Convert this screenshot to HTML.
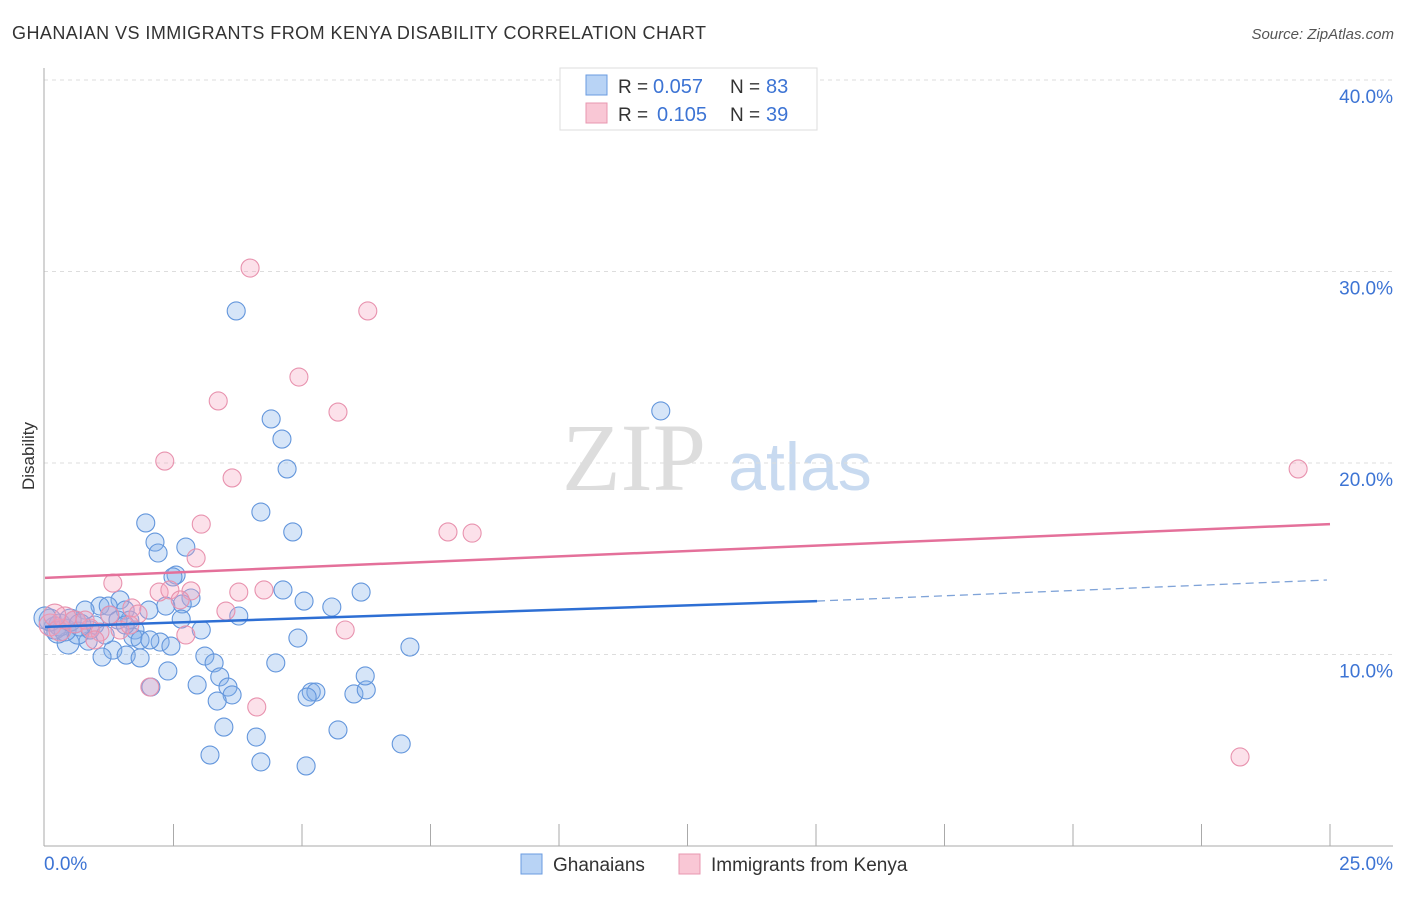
<!DOCTYPE html>
<html><head><meta charset="utf-8"><style>
body{margin:0;background:#fff;font-family:"Liberation Sans",sans-serif;}
svg text{font-family:"Liberation Sans",sans-serif;}
</style></head><body>
<svg id="chart" width="1406" height="892" xmlns="http://www.w3.org/2000/svg">
<text x="12" y="39" font-size="18" fill="#333" textLength="694">GHANAIAN VS IMMIGRANTS FROM KENYA DISABILITY CORRELATION CHART</text>
<text x="1394" y="39" font-size="15" fill="#555" font-style="italic" text-anchor="end">Source: ZipAtlas.com</text>
<text x="0" y="0" transform="translate(34,456) rotate(-90)" font-size="17" fill="#333" text-anchor="middle">Disability</text>
<g>
<text x="634" y="490" font-size="96" fill="#ddd" text-anchor="middle" style="font-family:'Liberation Serif',serif">ZIP</text>
<text x="800" y="490" font-size="68" fill="#c8daf0" text-anchor="middle">atlas</text>
</g>
<g id="grid"></g>
<g id="axes"></g>
<g id="marks"></g>
<g>
<rect x="560" y="68" width="257" height="62" fill="#fff" stroke="#ddd"/>
<rect x="586" y="75" width="21" height="20" fill="#b8d3f5" stroke="#6a9be0"/>
<rect x="586" y="103" width="21" height="20" fill="#f9c7d5" stroke="#e897b0"/>
<text x="618" y="93" font-size="19" fill="#333">R =</text>
<text x="653" y="93" font-size="20" fill="#3d74d4">0.057</text>
<text x="730" y="93" font-size="19" fill="#333">N =</text>
<text x="766" y="93" font-size="20" fill="#3d74d4">83</text>
<text x="618" y="121" font-size="19" fill="#333">R =</text>
<text x="657" y="121" font-size="20" fill="#3d74d4">0.105</text>
<text x="730" y="121" font-size="19" fill="#333">N =</text>
<text x="766" y="121" font-size="20" fill="#3d74d4">39</text>
</g>
<g>
<rect x="521" y="854" width="21" height="20" fill="#b8d3f5" stroke="#6a9be0"/>
<text x="553" y="871" font-size="19" fill="#333">Ghanaians</text>
<rect x="679" y="854" width="21" height="20" fill="#f9c7d5" stroke="#e897b0"/>
<text x="711" y="871" font-size="19" fill="#333">Immigrants from Kenya</text>
</g>
</svg>
<script>
const yTicks=[10,20,30,40];
const yTickLabels=["10.0%","20.0%","30.0%","40.0%"];
const xTicks=[2.5,5,7.5,10,12.5,15,17.5,20,22.5,25];
const blueX=[3.72,11.98,4.40,4.61,4.71,4.20,4.82,1.96,2.14,2.20,2.74,2.55,2.49,4.63,6.15,2.84,2.67,2.35,5.04,5.58,3.77,2.65,2.02,1.46,1.07,0.78,1.23,1.56,1.65,3.04,1.75,4.92,7.10,1.71,2.24,2.45,1.32,1.11,0.45,0.84,0.64,1.58,1.85,3.11,3.29,4.49,2.39,3.40,3.56,2.96,2.06,3.64,3.35,5.18,5.27,5.10,6.01,6.25,6.23,3.48,5.70,4.11,6.93,3.21,4.20,5.08,0.19,0.29,0.10,0.00,0.39,0.88,0.58,0.97,1.26,1.42,1.85,1.17,0.25,0.49,0.68,2.04,1.56];
const blueY=[27.94,22.72,22.30,21.25,19.69,17.44,16.40,16.87,15.87,15.30,15.61,14.15,14.05,13.37,13.26,12.95,12.64,12.53,12.79,12.48,12.01,11.85,12.32,12.85,12.53,12.32,12.53,12.32,11.80,11.28,11.28,10.86,10.39,10.91,10.65,10.44,10.23,9.87,10.60,10.70,11.12,9.97,9.82,9.92,9.56,9.56,9.14,8.83,8.30,8.41,8.30,7.89,7.57,8.04,8.04,7.78,7.94,8.15,8.88,6.21,6.06,5.69,5.33,4.75,4.39,4.18,11.38,11.54,11.80,11.91,11.28,11.28,11.70,11.54,12.06,11.80,10.76,11.02,11.17,11.80,11.54,10.76,11.54];
const pinkX=[3.99,6.28,4.94,3.37,5.70,2.33,3.64,24.38,7.84,8.31,3.04,2.94,1.32,2.22,2.43,2.84,3.77,4.26,2.63,1.69,1.81,3.52,2.74,5.84,2.04,4.12,23.25,0.10,0.29,0.58,0.88,1.07,1.46,0.39,0.78,1.26,1.65,0.19,0.97];
const pinkY=[30.18,27.94,24.49,23.24,22.66,20.10,19.22,19.69,16.40,16.34,16.81,15.04,13.73,13.26,13.37,13.32,13.26,13.37,12.85,12.43,12.11,12.27,11.02,11.28,8.30,7.26,4.65,11.54,11.28,11.70,11.38,11.17,11.28,11.91,11.80,12.06,11.54,12.06,10.76];
const blueTrend=[11.44,12.79,13.89];
const blueTrendX=[0,15.02,24.94];
const pinkTrend=[14.0,16.81];
const pinkTrendX=[0,25];

const NS="http://www.w3.org/2000/svg";
const sx=v=>45+v*51.4, sy=v=>846-v*19.15;
function mk(t,a,p){const e=document.createElementNS(NS,t);for(const k in a)e.setAttribute(k,a[k]);p.appendChild(e);return e;}
const grid=document.getElementById('grid'),axes=document.getElementById('axes'),marks=document.getElementById('marks');
yTicks.forEach((v,i)=>{
 const l=mk('line',{x1:44,x2:1393,y1:sy(v),y2:sy(v),stroke:'#ddd','stroke-dasharray':'4,4'},grid);
 
 
 const t=mk('text',{x:1393,y:sy(v)+23,'font-size':19,fill:'#3d74d4','text-anchor':'end'},axes);
 t.textContent=yTickLabels[i];
 
 
});
const al=mk('line',{x1:44,x2:44,y1:68,y2:846,stroke:'#aaa'},axes);


const bl=mk('line',{x1:44,x2:1393,y1:846,y2:846,stroke:'#aaa'},axes);


xTicks.forEach(v=>{
 const l=mk('line',{x1:sx(v),x2:sx(v),y1:824,y2:846,stroke:'#aaa'},axes);
 
 
});
const x0=mk('text',{x:44,y:870,'font-size':19,fill:'#3d74d4'},axes);x0.textContent='0.0%';


const x1=mk('text',{x:1393,y:870,'font-size':19,fill:'#3d74d4','text-anchor':'end'},axes);x1.textContent='25.0%';


function dots(X,Y,fill,stroke,name){
 X.forEach((x,i)=>{
  const r=x<0.7?11:9;
  const c=mk('circle',{cx:sx(x),cy:sy(Y[i]),r:r,fill:fill,stroke:stroke,'stroke-width':1.1},marks);
  
  
 });
}
dots(blueX,blueY,'rgba(130,175,235,0.33)','#6396dc','ghanaian-point');
dots(pinkX,pinkY,'rgba(245,165,190,0.33)','#e892ae','kenya-point');
const b1=mk('line',{x1:sx(blueTrendX[0]),y1:sy(blueTrend[0]),x2:sx(blueTrendX[1]),y2:sy(blueTrend[1]),stroke:'#2e6fd4','stroke-width':2.5},marks);


const b2=mk('line',{x1:sx(blueTrendX[1]),y1:sy(blueTrend[1]),x2:sx(blueTrendX[2]),y2:sy(blueTrend[2]),stroke:'#7fa3d8','stroke-width':1.3,'stroke-dasharray':'8,5'},marks);


const p1=mk('line',{x1:sx(pinkTrendX[0]),y1:sy(pinkTrend[0]),x2:sx(pinkTrendX[1]),y2:sy(pinkTrend[1]),stroke:'#e4709a','stroke-width':2.5},marks);


</script>
</body></html>
